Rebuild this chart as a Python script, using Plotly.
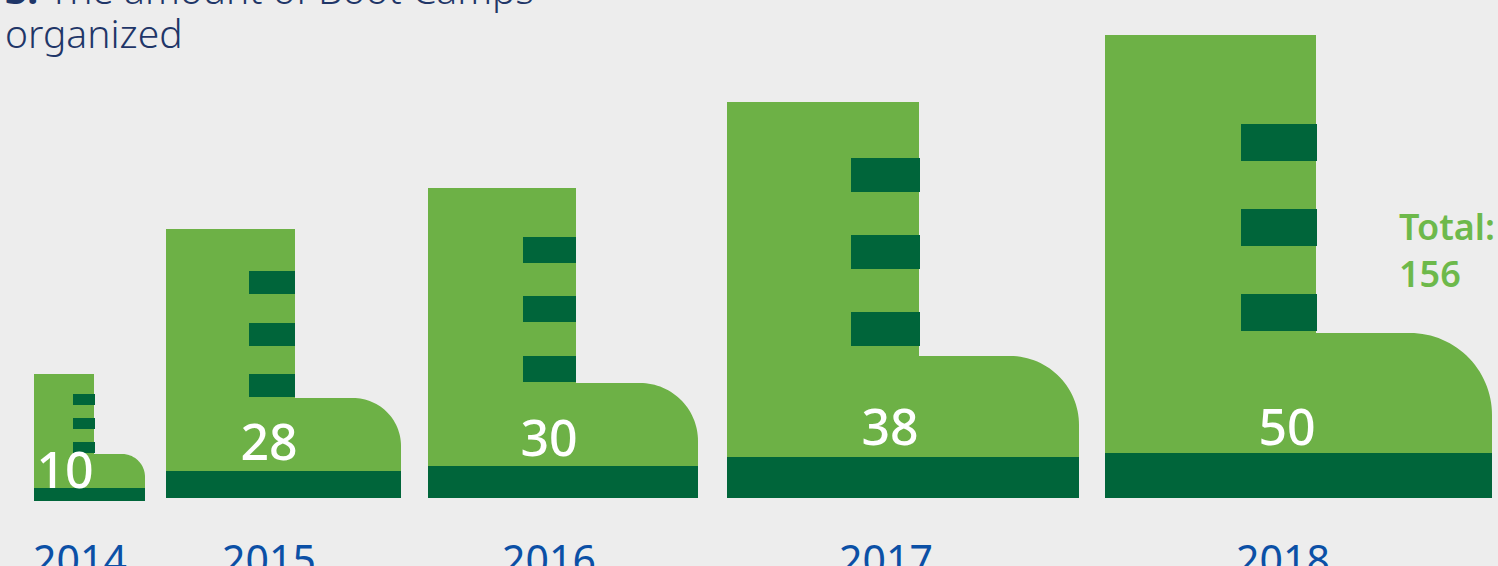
import numpy as np
import plotly.graph_objects as go

# --- data ---
years = ["2014", "2015", "2016", "2017", "2018"]
camps = [10, 28, 30, 38, 50]
total_label = "Total:<br>156"
title_first = "<b>3.</b> The amount of Boot Camps"
title_second = "organized"

# --- pictogram geometry, in axis units ---
boot_left = [34, 166, 428, 727, 1105]
shaft_right = [94, 295, 576, 919, 1316]
toe_right = [145, 401, 698, 1079, 1492]
boot_top = [374, 229, 188, 102, 35]
ankle_y = [454, 398, 383, 356, 333]
sole_top = [488, 471, 466, 457, 453]
sole_bottom = [501, 498, 498, 498, 498]
toe_radius = [23, 48, 58, 69, 82]
lace_left = [73, 249, 523, 851, 1241]
lace_right = [95, 295, 576, 920, 1317]
lace_tops = [[394, 418, 442], [271, 323, 374], [237, 296, 356], [158, 235, 312], [124, 209, 294]]
lace_height = [11, 23, 26, 34, 37]
label_x = [65, 269, 549, 890, 1287]
label_y = [475, 447, 443, 432, 432]
tick_x = [80, 269, 549, 886, 1283]

LIGHT = "#6DB146"
DARK = "#00653A"
BG = "#EDEDED"
NAVY = "#1F3668"
BLUE = "#0B50A6"
FONT = "Noto Sans"


def rect(fig, x0, x1, y0, y1, color):
    fig.add_trace(go.Scatter(x=[x0, x1, x1, x0, x0], y=[y0, y0, y1, y1, y0], mode="lines",
                             fill="toself", fillcolor=color, line=dict(width=0), hoverinfo="skip",
                             showlegend=False))


fig = go.Figure()
for i in range(len(years)):
    theta = np.linspace(-np.pi / 2, 0, 32)
    r = toe_radius[i]
    cx = toe_right[i] - r
    cy = ankle_y[i] + r
    arc_x = cx + r * np.cos(theta)
    arc_y = cy + r * np.sin(theta)
    px = [boot_left[i], shaft_right[i], shaft_right[i], *arc_x, toe_right[i], boot_left[i], boot_left[i]]
    py = [boot_top[i], boot_top[i], ankle_y[i], *arc_y, sole_top[i], sole_top[i], boot_top[i]]
    fig.add_trace(go.Scatter(x=px, y=py, mode="lines", fill="toself", fillcolor=LIGHT,
                             line=dict(width=0, simplify=False), hoverinfo="skip", showlegend=False))
    rect(fig, boot_left[i], toe_right[i], sole_top[i], sole_bottom[i], DARK)
    for top in lace_tops[i]:
        rect(fig, lace_left[i], lace_right[i], top, top + lace_height[i], DARK)

fig.add_trace(go.Scatter(x=label_x, y=label_y, mode="text", text=[str(v) for v in camps],
                         textposition="middle center", cliponaxis=False, showlegend=False,
                         hoverinfo="skip",
                         textfont=dict(family=FONT, size=50, color="white", weight=500)))

fig.add_annotation(x=1397, y=250, xref="x", yref="y", text=total_label, showarrow=False,
                   xanchor="left", yanchor="middle", align="left",
                   font=dict(family=FONT, size=36, color="#6DB94B", weight=600))
for text, top in ((title_first, -40), (title_second, 4)):
    fig.add_annotation(x=3 / 1498, y=1 - top / 540, xref="paper", yref="paper", text=text,
                       showarrow=False, xanchor="left", yanchor="top", align="left",
                       font=dict(family=FONT, size=39, color=NAVY, weight=300))

fig.update_layout(
    width=1498, height=566, margin=dict(l=0, r=0, t=0, b=26, pad=0, autoexpand=False),
    paper_bgcolor=BG, plot_bgcolor=BG, showlegend=False,
    xaxis=dict(range=[0, 1498], tickmode="array", tickvals=tick_x, ticktext=years, ticklen=0,
               showgrid=False, zeroline=False, showline=False, fixedrange=True, automargin=False,
               ticklabelstandoff=-7, tickfont=dict(family=FONT, size=41, color=BLUE)),
    yaxis=dict(range=[540, 0], visible=False, fixedrange=True, automargin=False),
)
fig.write_html("out.html", config=dict(displayModeBar=False),
               post_script="document.body.style.margin='0';document.documentElement.style.background='#EDEDED';")
